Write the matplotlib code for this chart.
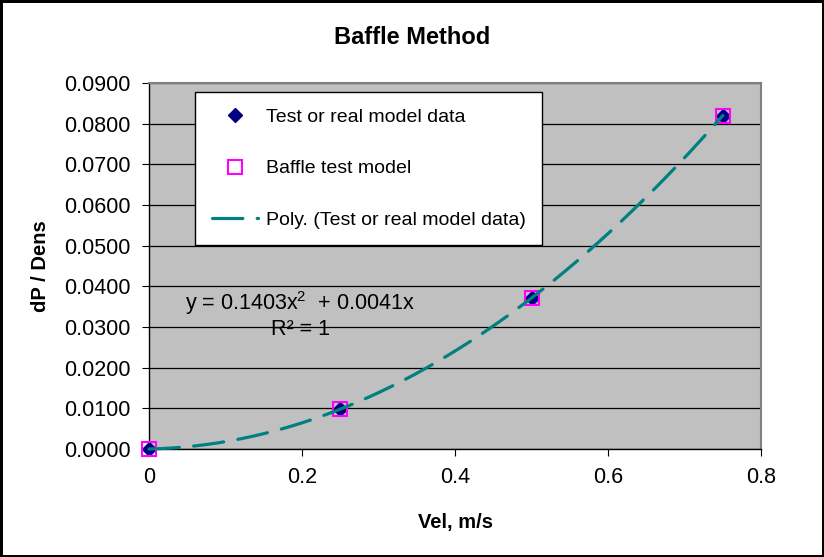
import matplotlib
matplotlib.use('Agg')
import matplotlib.pyplot as plt
import numpy as np

plt.rcParams['font.family'] = ['Liberation Sans', 'DejaVu Sans']
plt.rcParams['mathtext.fontset'] = 'custom'
plt.rcParams['mathtext.rm'] = 'Liberation Sans'

# data
vel = [0.0, 0.25, 0.5, 0.75]
test_data = [0.0, 0.0098, 0.0371, 0.0820]
baffle_model = [0.0, 0.0098, 0.0371, 0.0820]
# trendline coefficients as shown on the chart (a*x^2 + b*x + c)
poly_coef = [0.1403, 0.0041, 0.0]

y_ticks = [0.0, 0.01, 0.02, 0.03, 0.04, 0.05, 0.06, 0.07, 0.08, 0.09]
x_ticks = [0.0, 0.2, 0.4, 0.6, 0.8]

fig = plt.figure(figsize=(8.24, 5.57), dpi=100)
fig.patch.set_facecolor('white')
fig.patch.set_edgecolor('black')
fig.patch.set_linewidth(2.5)

ax = fig.add_axes([149/824, 1 - 449/557, 612/824, 366/557])
ax.set_facecolor('#c0c0c0')

# points
ax.plot(vel, test_data, linestyle='none', marker='D', markersize=7.5,
        color='#000080', label='Test or real model data', zorder=3, clip_on=False)
ax.plot(vel, baffle_model, linestyle='none', marker='s', markersize=10.5,
        markerfacecolor='none', markeredgecolor='#ff00ff', markeredgewidth=1.5,
        label='Baffle test model', zorder=4, clip_on=False)

# trendline
xs = np.linspace(vel[0], vel[-1], 200)
ax.plot(xs, np.polyval(poly_coef, xs), color='#008080', linewidth=2.3,
        linestyle=(0, (9.5, 4.5)), dash_capstyle='round',
        label='Poly. (Test or real model data)', zorder=5, clip_on=False)

ax.set_xlim(0, 0.8)
ax.set_ylim(0, 0.09)
ax.set_xticks(x_ticks)
ax.set_xticklabels(['0', '0.2', '0.4', '0.6', '0.8'])
ax.set_yticks(y_ticks)
ax.set_yticklabels(['%.4f' % v for v in y_ticks])
ax.tick_params(direction='out', length=5, width=0.8, labelsize=15.5, pad=8)
ax.yaxis.grid(True, color='black', linewidth=0.9)
ax.set_axisbelow(True)

for s in ['top', 'right']:
    ax.spines[s].set_color('#808080')
    ax.spines[s].set_linewidth(1.5)
for s in ['left', 'bottom']:
    ax.spines[s].set_color('black')
    ax.spines[s].set_linewidth(1)

fig.suptitle('Baffle Method', x=0.5, y=1 - 38/557, va='center',
             fontsize=17, fontweight='bold')
ax.set_xlabel('Vel, m/s', fontsize=14.5, fontweight='bold', labelpad=18)
ax.set_ylabel('dP / Dens', fontsize=14.5, fontweight='bold', labelpad=10)

ax.text(0.247, 0.367, 'y = 0.1403x$^2$  + 0.0041x\nR² = 1', transform=ax.transAxes,
        ha='center', va='center', fontsize=15.5, multialignment='center',
        linespacing=1.1)

leg = ax.legend(loc='upper left', bbox_to_anchor=((195 - 149)/612, (449 - 92)/366),
                fontsize=14, frameon=True, fancybox=False, framealpha=1,
                edgecolor='black', labelspacing=1.73, borderpad=0.85,
                handlelength=2.4, handletextpad=0.4, borderaxespad=0)
leg.get_frame().set_linewidth(1)

fig.savefig('out.png', dpi=100)
